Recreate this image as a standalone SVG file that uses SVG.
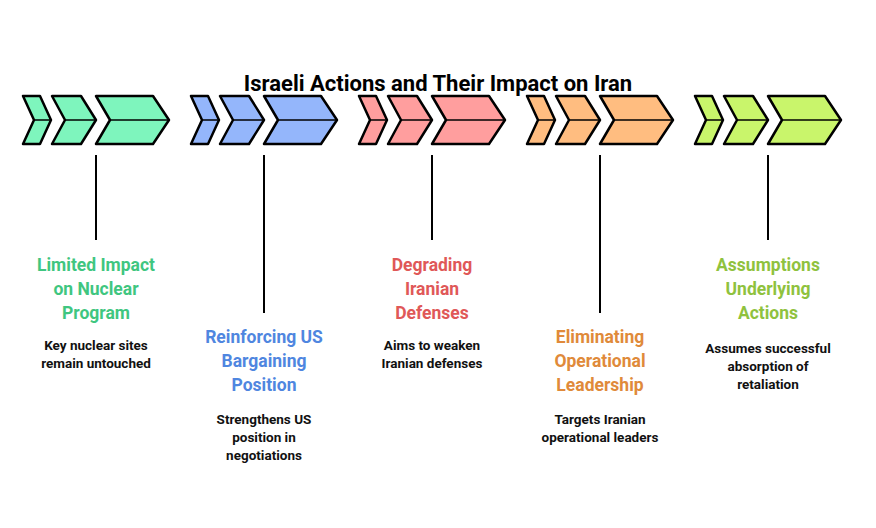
<svg xmlns="http://www.w3.org/2000/svg" width="876" height="528" viewBox="0 0 876 528">
<style>
.c{stroke:#000;stroke-width:2.5;stroke-linejoin:round}
.m{stroke:#000;stroke-width:1.5;fill:none}
.t{font-family:Roboto,"Liberation Sans",sans-serif;font-weight:bold;font-size:17.5px;text-anchor:middle}
.d{font-family:Roboto,"Liberation Sans",sans-serif;font-weight:bold;font-size:13.5px;text-anchor:middle;fill:#111}
.l{stroke:#000;stroke-width:2}
</style>
<defs>
<g id="chev">
<path class="c" d="M0,96 H17 L28,120 L17,144 H0 L11,120 Z"/>
<path class="c" d="M29,96 H58 L73,120 L58,144 H29 L42,120 Z"/>
<path class="c" d="M73,96 H130 L146,120 L130,144 H73 L87,120 Z"/>
<path class="m" d="M11,120 H28 M42,120 H73 M87,120 H146"/>
</g>
</defs>
<rect width="876" height="528" fill="#fff"/>
<text x="438" y="91" font-family="Roboto,'Liberation Sans',sans-serif" font-weight="bold" font-size="22" text-anchor="middle" fill="#000">Israeli Actions and Their Impact on Iran</text>
<g id="connectors">
<line class="l" x1="96" y1="155" x2="96" y2="240"/>
<line class="l" x1="264" y1="155" x2="264" y2="313"/>
<line class="l" x1="432" y1="155" x2="432" y2="240"/>
<line class="l" x1="600" y1="155" x2="600" y2="313"/>
<line class="l" x1="768" y1="155" x2="768" y2="240"/>
</g>
<g id="n1" fill="#7ef5bd"><use href="#chev" x="23"/>
<text class="t" fill="#3fc680"><tspan x="96" y="271">Limited Impact</tspan><tspan x="96" y="295">on Nuclear</tspan><tspan x="96" y="319">Program</tspan></text>
<text class="d"><tspan x="96" y="350">Key nuclear sites</tspan><tspan x="96" y="368">remain untouched</tspan></text></g>
<g id="n2" fill="#94b6fb"><use href="#chev" x="191"/>
<text class="t" fill="#4f86e0"><tspan x="264" y="343">Reinforcing US</tspan><tspan x="264" y="367">Bargaining</tspan><tspan x="264" y="391">Position</tspan></text>
<text class="d"><tspan x="264" y="424">Strengthens US</tspan><tspan x="264" y="442">position in</tspan><tspan x="264" y="460">negotiations</tspan></text></g>
<g id="n3" fill="#ff9e9e"><use href="#chev" x="359"/>
<text class="t" fill="#e05858"><tspan x="432" y="271">Degrading</tspan><tspan x="432" y="295">Iranian</tspan><tspan x="432" y="319">Defenses</tspan></text>
<text class="d"><tspan x="432" y="350">Aims to weaken</tspan><tspan x="432" y="368">Iranian defenses</tspan></text></g>
<g id="n4" fill="#ffbd80"><use href="#chev" x="527"/>
<text class="t" fill="#e08a3a"><tspan x="600" y="343">Eliminating</tspan><tspan x="600" y="367">Operational</tspan><tspan x="600" y="391">Leadership</tspan></text>
<text class="d"><tspan x="600" y="424">Targets Iranian</tspan><tspan x="600" y="442">operational leaders</tspan></text></g>
<g id="n5" fill="#c9f56b"><use href="#chev" x="695"/>
<text class="t" fill="#8fc23e"><tspan x="768" y="271">Assumptions</tspan><tspan x="768" y="295">Underlying</tspan><tspan x="768" y="319">Actions</tspan></text>
<text class="d"><tspan x="768" y="353">Assumes successful</tspan><tspan x="768" y="371">absorption of</tspan><tspan x="768" y="389">retaliation</tspan></text></g>
</svg>
